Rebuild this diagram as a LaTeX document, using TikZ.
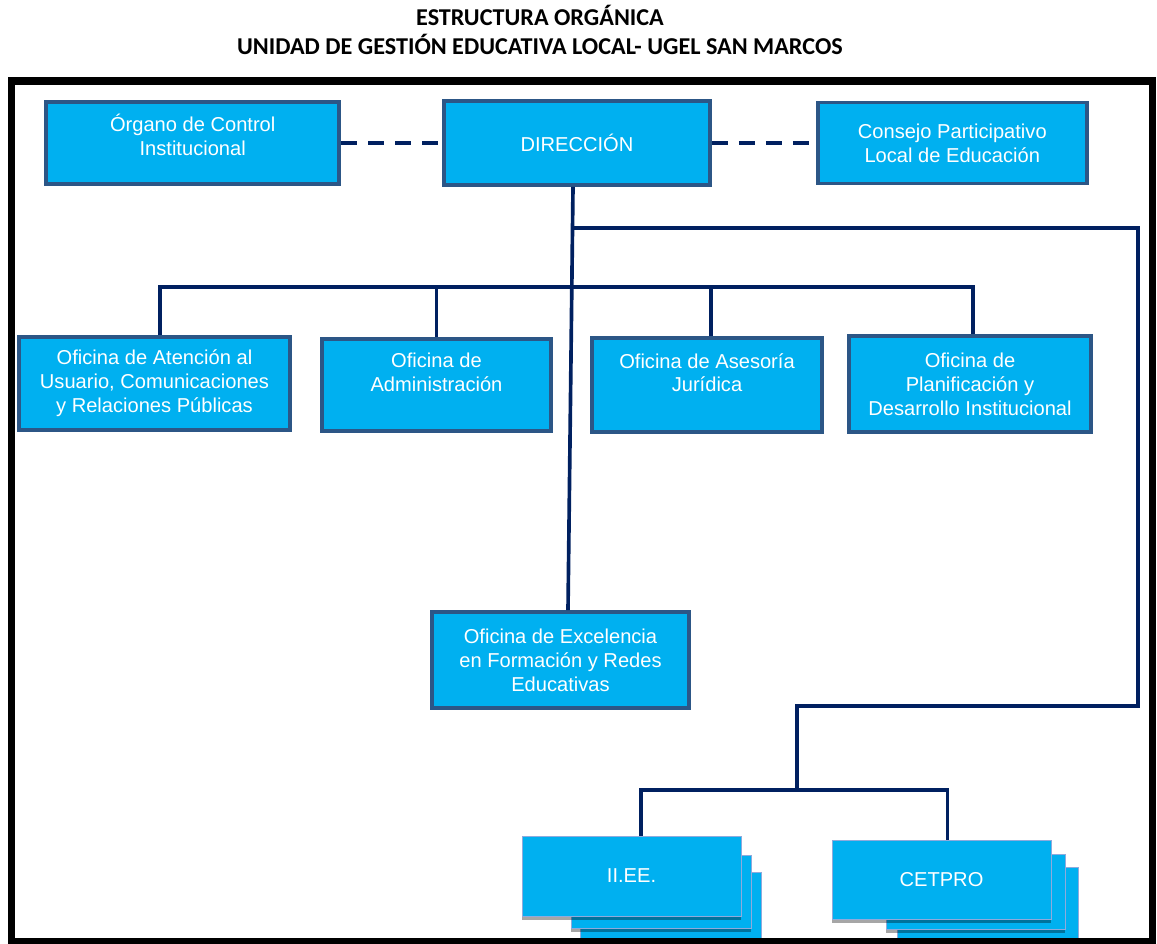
\documentclass[tikz,border=0pt]{standalone}
\usepackage{fontspec}
\setmainfont{Liberation Sans}
\newfontfamily\titlefont{Carlito}
\usetikzlibrary{positioning,shadows}

\definecolor{boxfill}{RGB}{0,176,240}
\definecolor{boxline}{RGB}{44,86,134}
\definecolor{navy}{RGB}{0,32,96}
\definecolor{cardline}{RGB}{143,170,220}

\begin{document}
\begin{tikzpicture}[
    unit/.style={rectangle, draw=boxline, line width=2.7pt, fill=boxfill, text=white, align=center, inner sep=0pt, font=\fontsize{14.3}{17}\selectfont},
    card/.style={rectangle, draw=cardline, line width=0.7pt, fill=boxfill, text=white, inner sep=0pt, font=\fontsize{14.3}{17}\selectfont,
        drop shadow={shadow xshift=0pt, shadow yshift=-0.1cm, opacity=.35, fill=black}},
    wire/.style={draw=navy, line width=2.6pt},
    link/.style={draw=navy, line width=3pt, dash pattern=on 0.4cm off 0.275cm}
]
    \useasboundingbox (0,0) rectangle (28.925,-23.575);

    % title
    \node[font=\titlefont\fontsize{17.2}{20.6}\selectfont\bfseries, align=center] (title) at (13.5,-0.75)
        {ESTRUCTURA ORGÁNICA\\UNIDAD DE GESTIÓN EDUCATIVA LOCAL- UGEL SAN MARCOS};

    % top level
    \node[unit, minimum width=6.65cm, minimum height=2.1cm] (dir) at (14.425,-3.575) {DIRECCIÓN};
    \node[unit, minimum width=7.325cm, minimum height=2.05cm, text depth=0.4cm, left=2.525cm of dir] (org) {Órgano de Control\\Institucional};
    \node[unit, minimum width=6.725cm, minimum height=2.025cm, right=2.6cm of dir] (con) {Consejo Participativo\\Local de Educación};

    % offices
    \node[unit, minimum width=6.775cm, minimum height=2.325cm] (aten) at (3.8625,-9.5875) {Oficina de Atención al\\Usuario, Comunicaciones\\y Relaciones Públicas};
    \node[unit, minimum width=5.725cm, minimum height=2.3cm, text depth=0.62cm] (adm) at (10.9125,-9.625) {Oficina de\\Administración};
    \node[unit, minimum width=5.75cm, minimum height=2.35cm, text depth=0.62cm] (jur) at (17.675,-9.625) {Oficina de Asesoría\\Jurídica};
    \node[unit, minimum width=6.05cm, minimum height=2.4cm] (plan) at (24.25,-9.6) {Oficina de\\Planificación y\\Desarrollo Institucional};
    \node[unit, minimum width=6.425cm, minimum height=2.4cm] (exc) at (14.0125,-16.5) {Oficina de Excelencia\\en Formación y Redes\\Educativas};

    % stacked institutions
    \node[card, minimum width=4.525cm, minimum height=1.7cm] (iiee3) at (16.7625,-22.65) {};
    \node[card, minimum width=4.5cm, minimum height=1.825cm] (iiee2) at (16.525,-22.2875) {};
    \node[card, minimum width=5.475cm, minimum height=2cm] (iiee) at (15.7875,-21.9) {II.EE.};
    \node[card, minimum width=4.525cm, minimum height=1.825cm] (cet3) at (24.6875,-22.5875) {};
    \node[card, minimum width=4.475cm, minimum height=1.875cm] (cet2) at (24.3875,-22.2875) {};
    \node[card, minimum width=5.475cm, minimum height=1.975cm] (cet) at (23.5375,-21.9875) {CETPRO};

    % connectors
    \coordinate (fork) at (14.325,-5.7);
    \coordinate (rim) at (28.45,-17.65);
    \coordinate (hub) at (19.925,-19.75);
    \coordinate (busL) at (4.0,-7.175);
    \coordinate (busR) at (24.325,-7.175);

    \draw[link] (org.east) -- (org.east -| dir.west);
    \draw[link] (dir.east) -- (dir.east -| con.west);
    \draw[wire] ([xshift=-0.1cm]dir.south) -- ([xshift=0.1875cm]exc.north);
    \draw[wire] (fork) -- (fork -| rim) -- (rim) -- (rim -| hub) -- (hub);
    \draw[wire] ([xshift=0.2375cm]iiee.north) |- (hub) -| ([xshift=0.15cm]cet.north);
    \draw[wire] (busL |- aten.north) -- (busL) -- (busR) -- (busR |- plan.north);
    \draw[wire] (adm.north) -- (adm.north |- busL);
    \draw[wire] ([xshift=0.1cm]jur.north) -- ([xshift=0.1cm]jur.north |- busL);

    % frame
    \draw[line width=5pt] (0.2875,-2.025) rectangle (28.8125,-23.525);
\end{tikzpicture}
\end{document}
